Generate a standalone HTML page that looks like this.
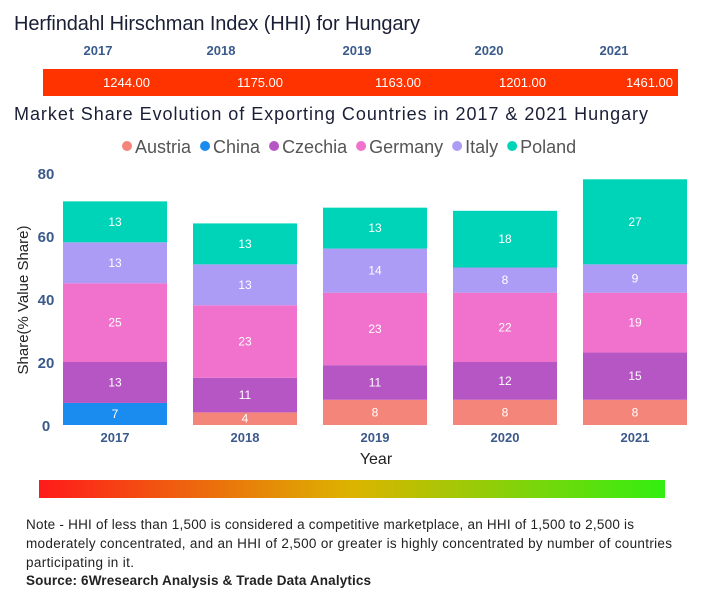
<!DOCTYPE html>
<html><head><meta charset="utf-8"><style>
body{margin:0;background:#fff;width:701px;height:600px;overflow:hidden;font-family:"Liberation Sans",sans-serif;}
svg{display:block}
</style></head><body>
<svg id="c" width="701" height="600">
<defs><linearGradient id="g" x1="0" x2="1"><stop offset="0" stop-color="#ff1a1a"/><stop offset="0.5" stop-color="#dcb400"/><stop offset="1" stop-color="#33ee11"/></linearGradient></defs>
<text x="14" y="30" font-size="20" fill="#1a1f36" textLength="406">Herfindahl Hirschman Index (HHI) for Hungary</text>
<rect x="43" y="69" width="635" height="27" fill="#ff3300"/>
<text x="14" y="120" font-size="18" fill="#1a1f36" textLength="634">Market Share Evolution of Exporting Countries in 2017 &amp; 2021 Hungary</text>
<text x="28" y="300" font-size="15" fill="#222" transform="rotate(-90 28 300)" text-anchor="middle">Share(% Value Share)</text>
<text x="376" y="464" font-size="16" fill="#222" text-anchor="middle">Year</text>
<rect x="39" y="480" width="626" height="18" fill="url(#g)"/>
<g font-size="13.5" fill="#222">
<text x="26" y="529" textLength="608">Note - HHI of less than 1,500 is considered a competitive marketplace, an HHI of 1,500 to 2,500 is</text>
<text x="26" y="548" textLength="646">moderately concentrated, and an HHI of 2,500 or greater is highly concentrated by number of countries</text>
<text x="26" y="567" textLength="108">participating in it.</text>
<text x="26" y="585" font-weight="bold" textLength="345">Source: 6Wresearch Analysis &amp; Trade Data Analytics</text>
</g>
</svg>
<script>
const years=['2017','2018','2019','2020','2021'];
const hhi=[1244,1175,1163,1201,1461];
const series=['Austria','China','Czechia','Germany','Italy','Poland'];
const austria=[0,4,8,8,8];
const china=[7,0,0,0,0];
const czechia=[13,11,11,12,15];
const germany=[25,23,23,22,19];
const italy=[13,13,14,8,9];
const poland=[13,13,13,18,27];
const yTicks=[0,20,40,60,80];
const colors=['#f4857a','#1a8cf0','#b656c4','#f072cc','#ad9cf5','#00d4b8'];
const data=[austria,china,czechia,germany,italy,poland];
const svg=document.getElementById('c');const NS='http://www.w3.org/2000/svg';
function mk(t,a,txt){const e=document.createElementNS(NS,t);for(const k in a)e.setAttribute(k,a[k]);if(txt!=null)e.textContent=txt;svg.appendChild(e);return e;}
const y=v=>425-v*3.15;
const xl=i=>63+i*130;const bw=104;
const hx=[98,221,357,489,614], hv=[150,283,421,546,673];
years.forEach((yr,i)=>{
 const t=mk('text',{x:hx[i],y:55,'font-size':13,'font-weight':'bold',fill:'#3a5a8c','text-anchor':'middle'},yr);
 
 
 const v=mk('text',{x:hv[i],y:87,'font-size':13,fill:'#fff','text-anchor':'end'},hhi[i].toFixed(2));
 
 
});
let lx=122;
series.forEach((s,i)=>{
 const c=mk('circle',{cx:lx+5,cy:146,r:5,fill:colors[i]});
 
 
 const t=mk('text',{x:lx+13,y:153,'font-size':18,fill:'#555'},s);
 
 
 lx+=13+t.getComputedTextLength()+9;
});
yTicks.forEach(v=>{
 const t=mk('text',{x:46,y:y(v)+6,'font-size':15,'font-weight':'bold',fill:'#3a5a8c','text-anchor':'middle'},v);
 
 
});
years.forEach((yr,i)=>{
 let base=0;
 data.forEach((arr,s)=>{
  const v=arr[i]; if(!v)return;
  const r=mk('rect',{x:xl(i),y:y(base+v),width:bw,height:v*3.15,fill:colors[s]});
  
  
  const t=mk('text',{x:xl(i)+bw/2,y:y(base+v/2)+4,'font-size':12,fill:'#fff','text-anchor':'middle'},v);
  
  
  base+=v;
 });
 const t=mk('text',{x:xl(i)+bw/2,y:442,'font-size':13,'font-weight':'bold',fill:'#3a5a8c','text-anchor':'middle'},yr);
 
 
});
</script>
</body></html>
